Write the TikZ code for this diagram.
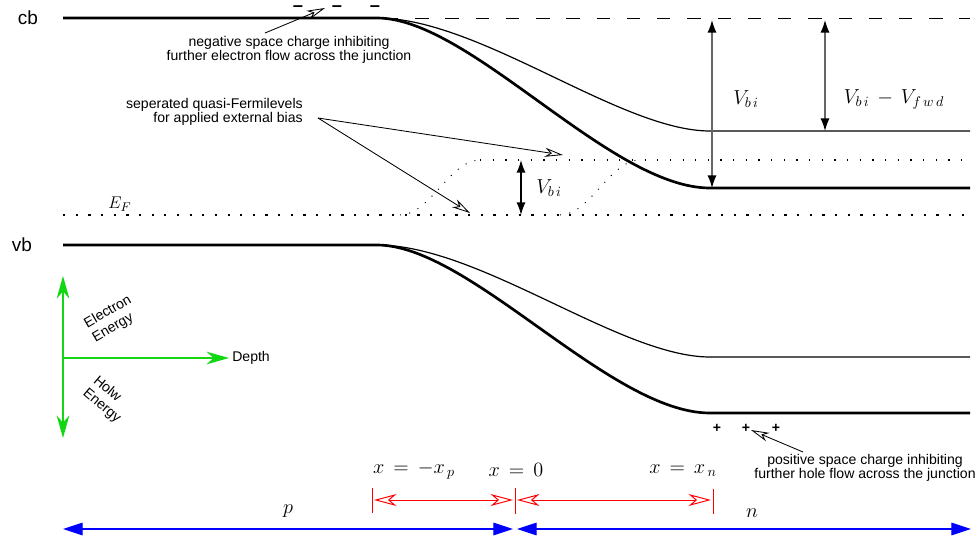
\documentclass[tikz,border=0pt]{standalone}
\usepackage{fontspec}
\setmainfont{Liberation Sans}
\usepackage{amsmath}
\usetikzlibrary{arrows.meta}
\definecolor{axisgreen}{RGB}{20,215,20}

\begin{document}
\begin{tikzpicture}[
    x=0.025cm, y=-0.025cm,
    band/.style={line width=1.9pt},
    biased/.style={line width=0.85pt},
    level/.style={line width=1.6pt, dash pattern=on 1.6pt off 7.4pt},
    quasi/.style={line width=0.9pt, dash pattern=on 0.9pt off 8.1pt},
    slope/.style={line width=0.7pt, dash pattern=on 0.7pt off 6pt},
    vacuum/.style={line width=0.7pt, dash pattern=on 9.5pt off 12pt},
    note/.style={font=\fontsize{10}{9}\selectfont, align=center, inner sep=0pt},
    axislbl/.style={font=\fontsize{10}{11.5}\selectfont, align=left, inner sep=0pt},
    bandlbl/.style={font=\fontsize{13.5}{14}\selectfont, inner sep=0pt},
    mathlbl/.style={font=\fontsize{14}{14}\selectfont, inner sep=0pt},
    negcharge/.style={font=\bfseries\fontsize{13}{13}\selectfont, inner sep=0pt,
                      text height=0.4em, text depth=0pt, anchor=base},
    poscharge/.style={font=\bfseries\fontsize{10}{10}\selectfont, inner sep=0pt},
    pointer/.style={-{Stealth[fill=white, length=13pt, width=6.5pt, inset=4pt]},
                    line width=0.6pt},
    potential/.style={{Latex[length=9pt, width=6.5pt, color=black]}-{Latex[length=9pt, width=6.5pt, color=black]},
                      line width=1pt, draw=black!60},
    axis/.style={-{Stealth[length=16pt, width=9pt, inset=5pt]},
                 line width=1pt, axisgreen},
    region/.style={{Stealth[fill=white, length=16pt, width=8.5pt, inset=5pt]}-{Stealth[fill=white, length=16pt, width=8.5pt, inset=5pt]},
                   red, line width=0.7pt},
    tick/.style={red, line width=0.7pt},
    side/.style={{Triangle[length=14pt, width=9pt]}-{Triangle[length=14pt, width=9pt]},
                 blue, line width=0.8pt},
]
  \useasboundingbox (0,0) rectangle (980,542);

  % Band edges
  \coordinate (cbL)  at (63,18);
  \coordinate (cbJ)  at (377,18);
  \coordinate (cbN)  at (710,188);
  \coordinate (cbR)  at (970,188);
  \coordinate (cbF)  at (710,131);
  \coordinate (cbFR) at (970,131);
  \coordinate (vbL)  at (63,245);
  \coordinate (vbJ)  at (377,245);
  \coordinate (vbN)  at (710,413);
  \coordinate (vbR)  at (970,413);
  \coordinate (vbF)  at (710,357);
  \coordinate (vbFR) at (970,357);
  \coordinate (vacL) at (385,18);
  \coordinate (vacR) at (970,18);

  \draw[band]   (cbL) -- (cbJ) .. controls (470,18) and (610,188) .. (cbN) -- (cbR);
  \draw[biased] (cbJ) .. controls (480,18) and (620,131) .. (cbF) -- (cbFR);
  \draw[band]   (vbL) -- (vbJ) .. controls (470,245) and (610,413) .. (vbN) -- (vbR);
  \draw[biased] (vbJ) .. controls (480,245) and (620,357) .. (vbF) -- (vbFR);
  \draw[vacuum] (vacL) -- (vacR);

  \node[bandlbl] (cb) at (28,18)  {cb};
  \node[bandlbl] (vb) at (22,245) {vb};

  % Fermi levels
  \coordinate (efL) at (63,215);
  \coordinate (efR) at (970,215);
  \coordinate (qfL) at (480,160);
  \coordinate (qfR) at (970,160);
  \coordinate (qsA) at (400,215);
  \coordinate (qsB) at (560,215);
  \coordinate (qsC) at (640,160);

  \draw[level] (efL) -- (efR);
  \draw[quasi] (qfL) -- (qfR);
  \draw[slope] (qsA) .. controls (430,215) and (450,160) .. (qfL);
  \draw[slope] (qsB) .. controls (590,215) and (610,160) .. (qsC);

  \node[font=\fontsize{13}{13}\selectfont, inner sep=0pt] (EF) at (120,204) {$E_F$};

  % Potential steps
  \coordinate (vbiT) at (712,20);
  \coordinate (vbiB) at (712,188);
  \coordinate (vfT)  at (825,20);
  \coordinate (vfB)  at (825,131);
  \coordinate (vqT)  at (521,160);
  \coordinate (vqB)  at (521,215);

  \draw[potential] (vbiT) -- (vbiB);
  \draw[potential] (vfT) -- (vfB);
  \draw[potential, draw=black] (vqT) -- (vqB);

  \node[mathlbl] (vbi)  at (746,99)  {$V_{b\,i}$};
  \node[mathlbl] (vfwd) at (894,99)  {$V_{b\,i} \,-\, V_{f\,w\,d}$};
  \node[mathlbl] (vq)   at (549,188) {$V_{b\,i}$};

  % Space charges
  \foreach \cx [count=\i] in {298,337,375}
    \node[negcharge] (neg\i) at (\cx,11) {--};
  \foreach \cx [count=\i] in {717,746,776}
    \node[poscharge] (pos\i) at (\cx,428) {+};

  \node[note] (negnote) at (289,50)
    {negative space charge inhibiting\\further electron flow across the junction};
  \node[note] (posnote) at (865,468)
    {positive space charge inhibiting\\further hole flow across the junction};
  \node[note, align=right, anchor=east] (qnote) at (303,112)
    {seperated quasi-Fermilevels\\for applied external bias};

  \coordinate (negtail) at (265,33);
  \coordinate (negtip)  at (325,8);
  \coordinate (postail) at (803,452);
  \coordinate (postip)  at (751,430);
  \coordinate (qtail)   at (318,118);
  \coordinate (qtipA)   at (563,155);
  \coordinate (qtipB)   at (470,213);

  \draw[pointer] (negtail) -- (negtip);
  \draw[pointer] (postail) -- (postip);
  \draw[pointer] (qtail) -- (qtipA);
  \draw[pointer] (qtail) -- (qtipB);

  % Axes
  \coordinate (orig) at (63,358);
  \coordinate (eUp)  at (63,276);
  \coordinate (eDn)  at (63,438);
  \coordinate (dep)  at (229,358);

  \draw[axis] (orig) -- (eUp);
  \draw[axis] (orig) -- (eDn);
  \draw[axis] (orig) -- (dep);

  \node[note, anchor=west] (depth) at (232,358) {Depth};
  \node[axislbl, rotate=30]  (elec) at (112,319) {Electron\\Energy};
  \node[axislbl, rotate=-40] (holw) at (107,400) {Holw\\Energy};

  % Depletion region
  \coordinate (xpT) at (372,488);
  \coordinate (xpB) at (372,513);
  \coordinate (x0T) at (515,488);
  \coordinate (x0B) at (515,514);
  \coordinate (xnT) at (713,489);
  \coordinate (xnB) at (713,514);
  \coordinate (rA)  at (374,500);
  \coordinate (rB)  at (513,500);
  \coordinate (rC)  at (517,500);
  \coordinate (rD)  at (711,500);

  \draw[tick] (xpT) -- (xpB);
  \draw[tick] (x0T) -- (x0B);
  \draw[tick] (xnT) -- (xnB);
  \draw[region] (rA) -- (rB);
  \draw[region] (rC) -- (rD);

  \node[mathlbl] (xp) at (414,470) {$x \,=\, -x_{\,p}$};
  \node[mathlbl] (x0) at (516,470) {$x \,=\, 0$};
  \node[mathlbl] (xn) at (683,471) {$x \,=\, x_{\,n}$};

  % Doping sides
  \coordinate (pL) at (63,529);
  \coordinate (pR) at (513,529);
  \coordinate (nL) at (517,529);
  \coordinate (nR) at (971,529);

  \draw[side] (pL) -- (pR);
  \draw[side] (nL) -- (nR);

  \node[mathlbl] (ptype) at (288,511) {$p$};
  \node[mathlbl] (ntype) at (752,513) {$n$};

\end{tikzpicture}
\end{document}
